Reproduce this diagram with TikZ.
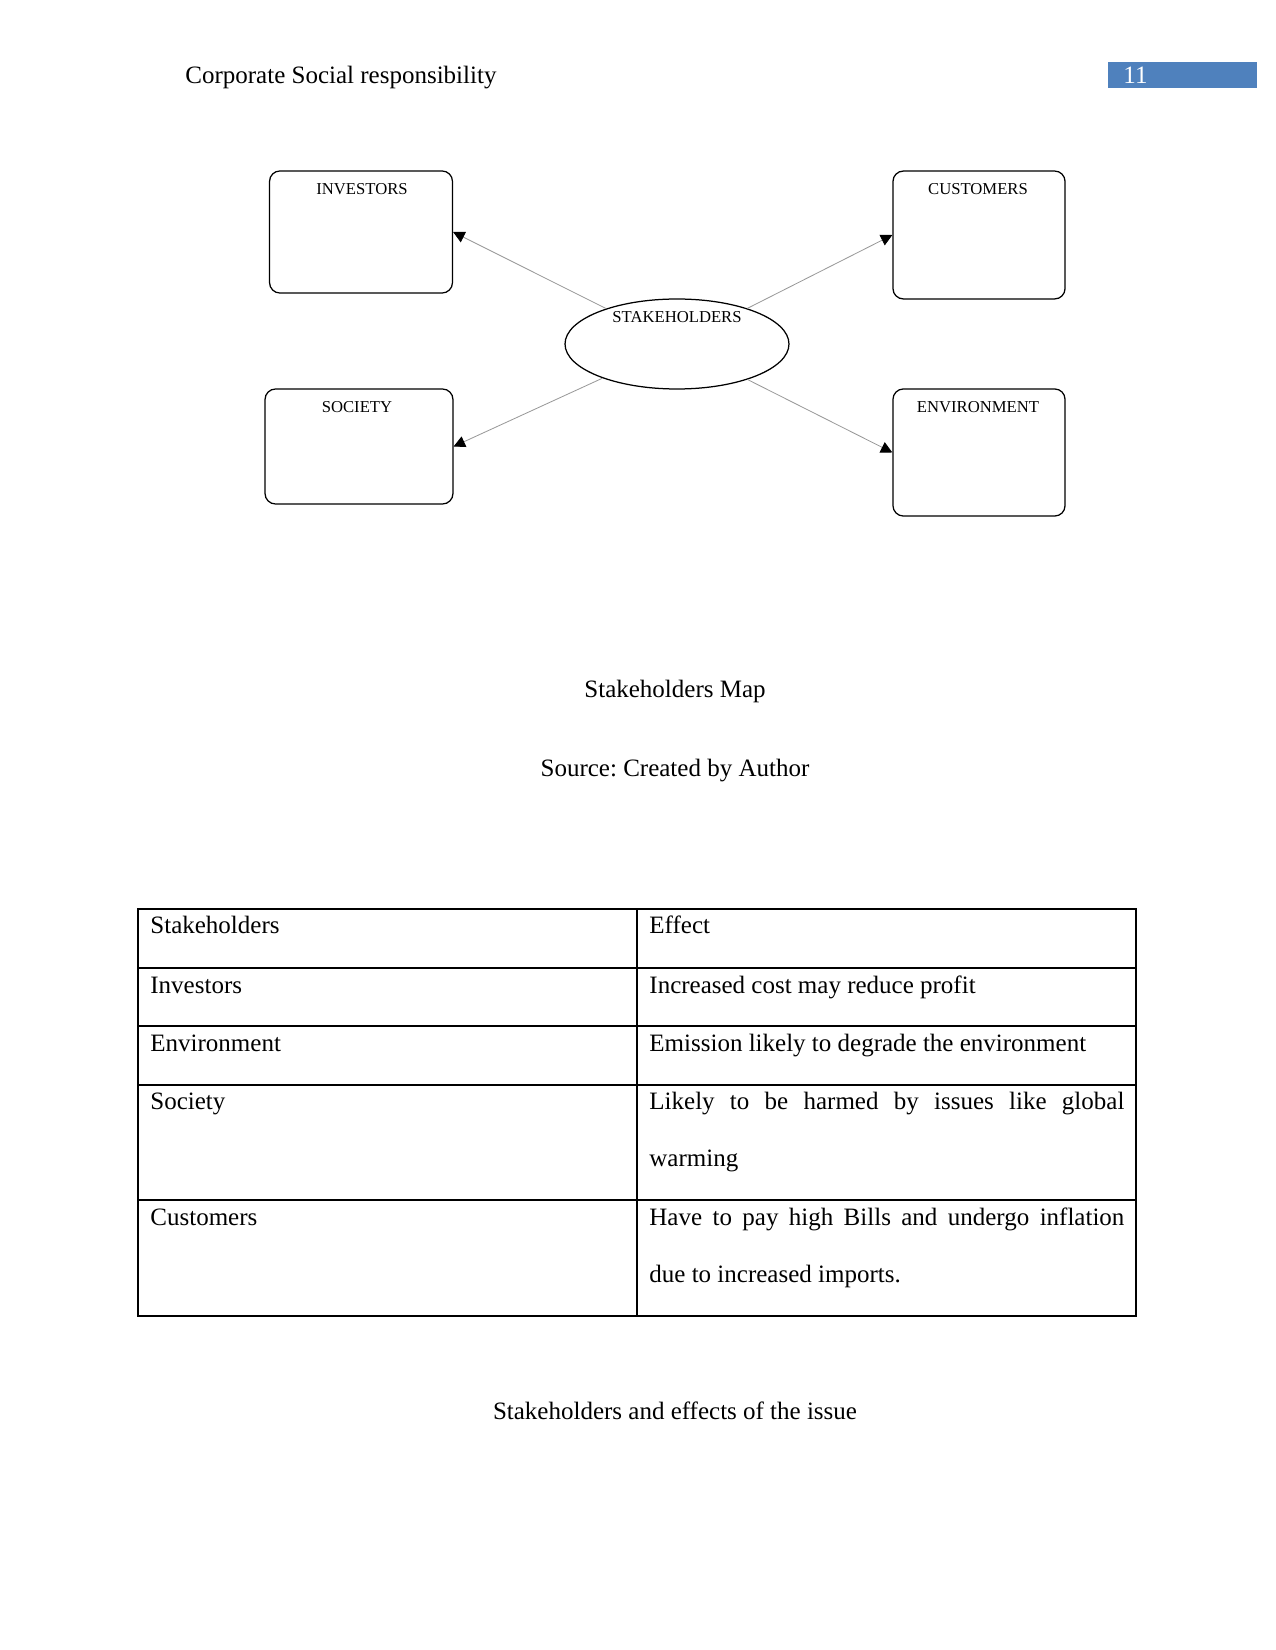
\documentclass[tikz,border=0pt]{standalone}
\usepackage{fontspec}
\setmainfont{Liberation Serif}
\usetikzlibrary{arrows.meta,shapes.geometric}
\definecolor{hdrblue}{HTML}{4F81BD}
\frenchspacing
\begin{document}
\begin{tikzpicture}[x=0.48pt,y=-0.48pt,
  box/.style={draw=black,line width=0.6pt,rounded corners=5pt,inner sep=0pt},
  boxlabel/.style={font=\fontsize{8}{9.6}\selectfont,anchor=center,inner sep=0pt},
  conn/.style={draw=gray!80,line width=0.4pt,-{Triangle[length=5.5pt,width=5.5pt,color=black]}},
  txt/.style={font=\fontsize{12}{14}\selectfont,anchor=base west,inner sep=0pt},
  captxt/.style={font=\fontsize{12}{14}\selectfont,anchor=base,inner sep=0pt},
  gridline/.style={draw=black,line width=0.5pt}]
\path[use as bounding box] (0,0) rectangle (1275,1650);

% header
\node[txt] (hdr) at (185,84) {Corporate Social responsibility};
\node[draw=none,fill=hdrblue,minimum width=71.5pt,minimum height=12.5pt,inner sep=0pt] (pgbox) at (1182.5,75) {};
\node[txt,text=white] (pgnum) at (1123,84) {11};

% diagram
\node[box,minimum width=87.8pt,minimum height=58.6pt] (inv) at (361,232) {};
\node[box,minimum width=82.6pt,minimum height=61.4pt] (cus) at (979,235) {};
\node[box,minimum width=90.2pt,minimum height=55.2pt] (soc) at (359,446.5) {};
\node[box,minimum width=82.6pt,minimum height=61pt] (env) at (979,452.5) {};
\node[draw=black,line width=0.6pt,ellipse,minimum width=107.5pt,minimum height=43.2pt,inner sep=0pt] (st) at (677,344) {};

\node[boxlabel] (invl) at (362,189) {INVESTORS};
\node[boxlabel] (cusl) at (978,189) {CUSTOMERS};
\node[boxlabel] (socl) at (357,407) {SOCIETY};
\node[boxlabel] (envl) at (978,407) {ENVIRONMENT};
\node[boxlabel] (stl) at (677,317) {STAKEHOLDERS};

\draw[conn] (st) -- (inv.east);
\draw[conn] (st) -- (cus.west);
\draw[conn] (st) -- (soc.east);
\draw[conn] (st) -- (env.west);

% captions
\node[captxt] (cap1) at (675,697) {Stakeholders Map};
\node[captxt] (cap2) at (675,776) {Source: Created by Author};

% table
\draw[gridline] (138,909) rectangle (1136,1316);
\draw[gridline] (138,968) -- (1136,968);
\draw[gridline] (138,1026) -- (1136,1026);
\draw[gridline] (138,1085) -- (1136,1085);
\draw[gridline] (138,1200) -- (1136,1200);
\draw[gridline] (637,909) -- (637,1316);

\node[txt] (r1a) at (150,933) {Stakeholders};
\node[txt] (r1b) at (649,933) {Effect};
\node[txt] (r2a) at (150,993) {Investors};
\node[txt] (r2b) at (649,993) {Increased cost may reduce profit};
\node[txt] (r3a) at (150,1051) {Environment};
\node[txt] (r3b) at (649,1051) {Emission likely to degrade the environment};
\node[txt] (r4a) at (150,1109) {Society};
\node[txt] (r4b) at (649,1109) {\makebox[228pt][s]{Likely to be harmed by issues like global}};
\node[txt] (r4c) at (649,1166) {warming};
\node[txt] (r5a) at (150,1225) {Customers};
\node[txt] (r5b) at (649,1225) {\makebox[228pt][s]{Have to pay high Bills and undergo inflation}};
\node[txt] (r5c) at (649,1282) {due to increased imports.};

\node[captxt] (cap3) at (675,1419) {Stakeholders and effects of the issue};
\end{tikzpicture}
\end{document}
